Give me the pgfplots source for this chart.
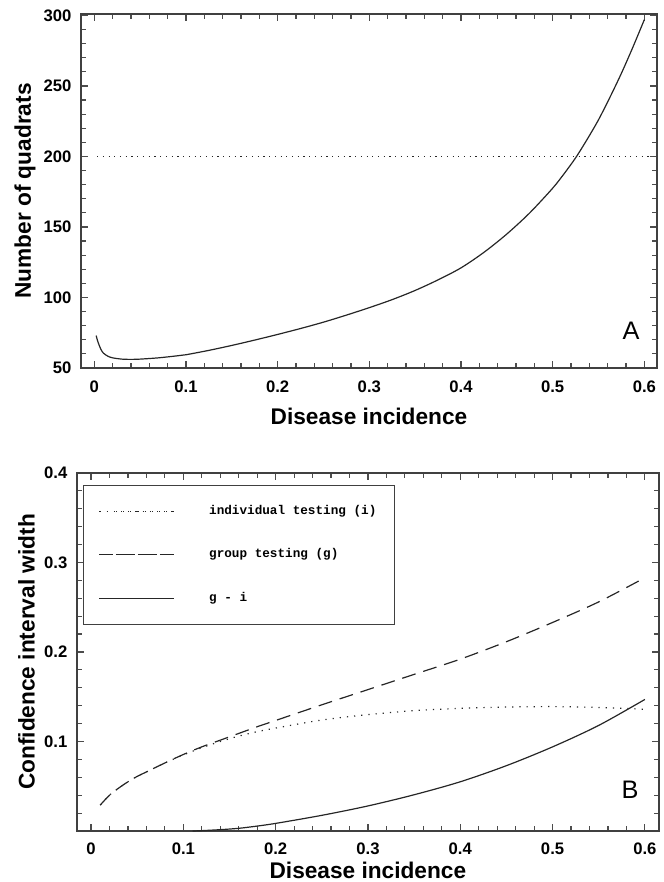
\documentclass[border=0pt]{standalone}
\usepackage{fontspec}
\setmainfont{Liberation Sans}
\newfontfamily\legfont{Liberation Mono}
\usepackage{pgfplots}
\pgfplotsset{compat=1.18}
\begin{document}
\begin{tikzpicture}
\pgfplotsset{
  myaxis/.style={
    scale only axis,
    anchor=south west,
    axis line style={black!75, line width=1.2pt},
    xtick align=inside, ytick align=inside,
    major tick length=5pt,
    minor tick length=3.5pt,
    every tick/.append style={black!70, line width=0.9pt},
    ticklabel style={font=\fontsize{12.5}{14}\selectfont\bfseries},
    yticklabel style={anchor=east, inner xsep=0pt, xshift=-7pt},
    label style={font=\fontsize{17}{20}\selectfont\bfseries},
    xtick={0,0.1,0.2,0.3,0.4,0.5,0.6},
    xticklabels={0,0.1,0.2,0.3,0.4,0.5,0.6},
    minor x tick num=4,
    minor y tick num=4,
  }
}
\path[use as bounding box] (0,0) rectangle (498pt,661.5pt);
% ---------------- Panel A ----------------
\begin{axis}[myaxis,
  at={(60.75pt,385.5pt)}, width=432pt, height=265.5pt,
  xmin=-0.0145, xmax=0.6138, ymin=50, ymax=301,
  ytick={50,100,150,200,250,300},
  yticklabels={50,100,150,200,250,300},
  xticklabel style={anchor=center, yshift=-14pt},
  xlabel={Disease incidence},
  ylabel={Number of quadrats},
  xlabel style={at={(axis description cs:0.5,0)}, anchor=center, yshift=-36pt},
  ylabel style={at={(axis description cs:-0.0972,0.5)}, anchor=center},
]
\addplot[black!85, line width=0.9pt, dash pattern=on 0.9pt off 3.4pt] coordinates {(0.003,200) (0.605,200)};
\addplot[black!85, line width=0.9pt, smooth] coordinates {
(0.002,73) (0.004,68.5) (0.007,63.5) (0.01,60.5) (0.015,58.3) (0.02,57.2)
(0.03,56.3) (0.04,56.1) (0.05,56.3) (0.07,57.2) (0.09,58.6) (0.1,59.4)
(0.125,62.5) (0.15,66) (0.175,69.8) (0.2,73.8) (0.225,78) (0.25,82.5)
(0.275,87.5) (0.3,92.8) (0.325,98.5) (0.35,105) (0.375,112.5) (0.4,121)
(0.425,132) (0.45,145) (0.475,160) (0.5,177.5) (0.5125,187.8) (0.525,199)
(0.5375,212) (0.55,226) (0.5625,242) (0.575,259) (0.5875,277.5) (0.6,297)
};
\node at (axis description cs:0.955,0.1045) {\fontsize{19}{22}\selectfont A};
\end{axis}
% ---------------- Panel B ----------------
\begin{axis}[myaxis,
  at={(57.75pt,38.25pt)}, width=436.3pt, height=268.5pt,
  xmin=-0.0152, xmax=0.615, ymin=0, ymax=0.4,
  ytick={0,0.1,0.2,0.3,0.4},
  yticklabels={,0.1,0.2,0.3,0.4},
  xticklabel style={anchor=center, yshift=-13.5pt},
  xlabel={Disease incidence},
  ylabel={Confidence interval width},
  xlabel style={at={(axis description cs:0.5,0)}, anchor=center, yshift=-29.25pt},
  ylabel style={at={(axis description cs:-0.0868,0.5)}, anchor=center},
  legend style={at={(axis description cs:0.0098,0.9665)}, anchor=north west,
    draw=black!75, line width=0.9pt, inner xsep=11.7pt, inner ysep=13.7pt,
    row sep=21pt, column sep=24pt,
    font=\legfont\bfseries\fontsize{9.5}{11}\selectfont,
    cells={anchor=west, inner sep=0pt, text height=6pt, text depth=0pt}},
  legend image code/.code={\path (-12.3pt,0pt) -- (43.5pt,0pt); \draw[#1] (0pt,0pt) -- (43.5pt,0pt);},
]
\addplot[black!85, line width=0.9pt, dash pattern=on 0.9pt off 4.5pt, smooth] coordinates {
(0.01,0.029) (0.02,0.040) (0.03,0.048) (0.04,0.055) (0.05,0.061) (0.06,0.066)
(0.08,0.076) (0.10,0.085) (0.12,0.093) (0.14,0.100) (0.16,0.106) (0.18,0.111)
(0.20,0.115) (0.25,0.124) (0.30,0.130) (0.35,0.1345) (0.40,0.137) (0.45,0.1385)
(0.50,0.139) (0.55,0.138) (0.60,0.136)
};
\addlegendentry{individual testing (i)}
\addplot[black!85, line width=0.9pt, dash pattern=on 10.5pt off 6pt, smooth] coordinates {
(0.01,0.029) (0.02,0.040) (0.03,0.048) (0.04,0.055) (0.05,0.061) (0.06,0.066)
(0.08,0.076) (0.10,0.0855) (0.12,0.094) (0.14,0.1015) (0.16,0.109) (0.18,0.1165)
(0.20,0.1235) (0.25,0.141) (0.30,0.158) (0.35,0.175) (0.40,0.192) (0.45,0.2115)
(0.50,0.233) (0.55,0.256) (0.60,0.283)
};
\addlegendentry{group testing (g)}
\addplot[black!85, line width=0.9pt, smooth] coordinates {
(0.11,0.0) (0.12,0.0004) (0.14,0.0015) (0.16,0.003) (0.18,0.0055) (0.20,0.0085)
(0.25,0.0175) (0.30,0.028) (0.35,0.0405) (0.40,0.055) (0.45,0.073) (0.50,0.094)
(0.55,0.118) (0.60,0.147)
};
\addlegendentry{g - i}
\node at (axis description cs:0.9507,0.1145) {\fontsize{19}{22}\selectfont B};
\end{axis}
\end{tikzpicture}
\end{document}
